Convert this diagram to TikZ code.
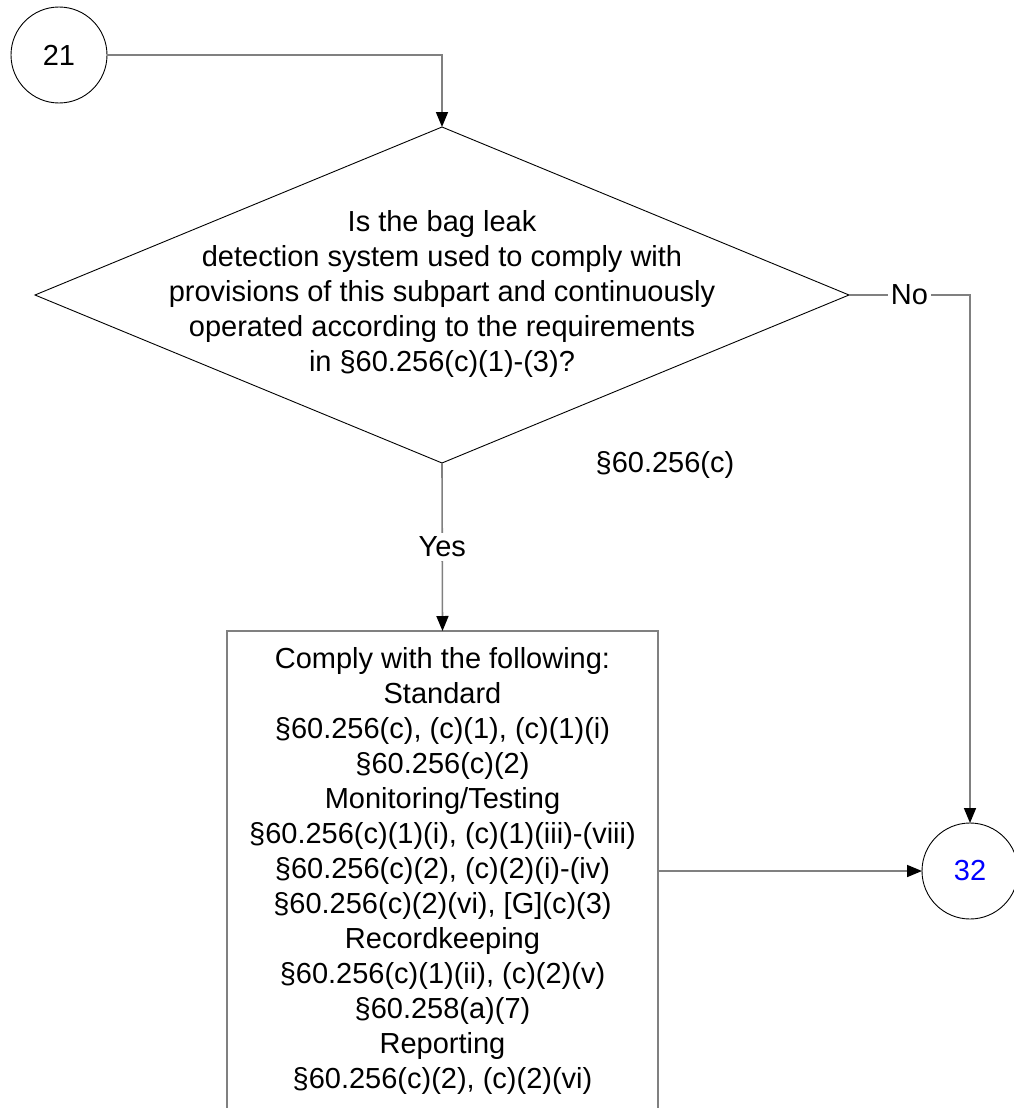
\documentclass[tikz,border=0pt]{standalone}
\usepackage{fontspec}
\setmainfont{Liberation Sans}
\usetikzlibrary{arrows.meta,shapes.geometric}
\begin{document}
\begin{tikzpicture}[x=1pt,y=-1pt,
  every node/.style={font=\fontsize{29}{35}\selectfont, inner sep=0pt, outer sep=0pt},
  conn/.style={draw=black!50, line width=1.6pt},
  arr/.style={conn, -{Triangle[length=15pt,width=12pt,color=black]}},
  circ/.style={circle, draw=black, line width=0.9pt, minimum size=96pt},
  lbl/.style={fill=white, inner xsep=3pt, inner ysep=4pt},
]
\useasboundingbox (0,0) rectangle (1013,1108);
\node[circ] (c21) at (59,55) {21};
\node[diamond, draw=black, line width=0.9pt, minimum width=814pt, minimum height=336pt] (dec) at (442,295) {};
\node[align=center] (qtext) at (442,294) {Is the bag leak\\detection system used to comply with\\provisions of this subpart and continuously\\operated according to the requirements\\in §60.256(c)(1)-(3)?};
\node[draw=black!50, line width=2pt, minimum width=431pt, minimum height=480pt, align=center] (box) at (442.5,871) {Comply with the following:\\Standard\\§60.256(c), (c)(1), (c)(1)(i)\\§60.256(c)(2)\\Monitoring/Testing\\§60.256(c)(1)(i), (c)(1)(iii)-(viii)\\§60.256(c)(2), (c)(2)(i)-(iv)\\§60.256(c)(2)(vi), [G](c)(3)\\Recordkeeping\\§60.256(c)(1)(ii), (c)(2)(v)\\§60.258(a)(7)\\Reporting\\§60.256(c)(2), (c)(2)(vi)};
\node[circ, text=blue] (c32) at (970,871) {32};
\node (ref) at (665,465) {§60.256(c)};
\coordinate (nocorner) at (c32.north |- dec.east);
\draw[arr] (c21.east) -| (dec.north);
\draw[arr] (dec.east) -- node[lbl] (no) {No} (nocorner) -- (c32.north);
\draw[arr] (dec.south) -- node[lbl] (yes) {Yes} (box.north);
\draw[arr] (box.east) -- (c32.west);
\end{tikzpicture}
\end{document}
